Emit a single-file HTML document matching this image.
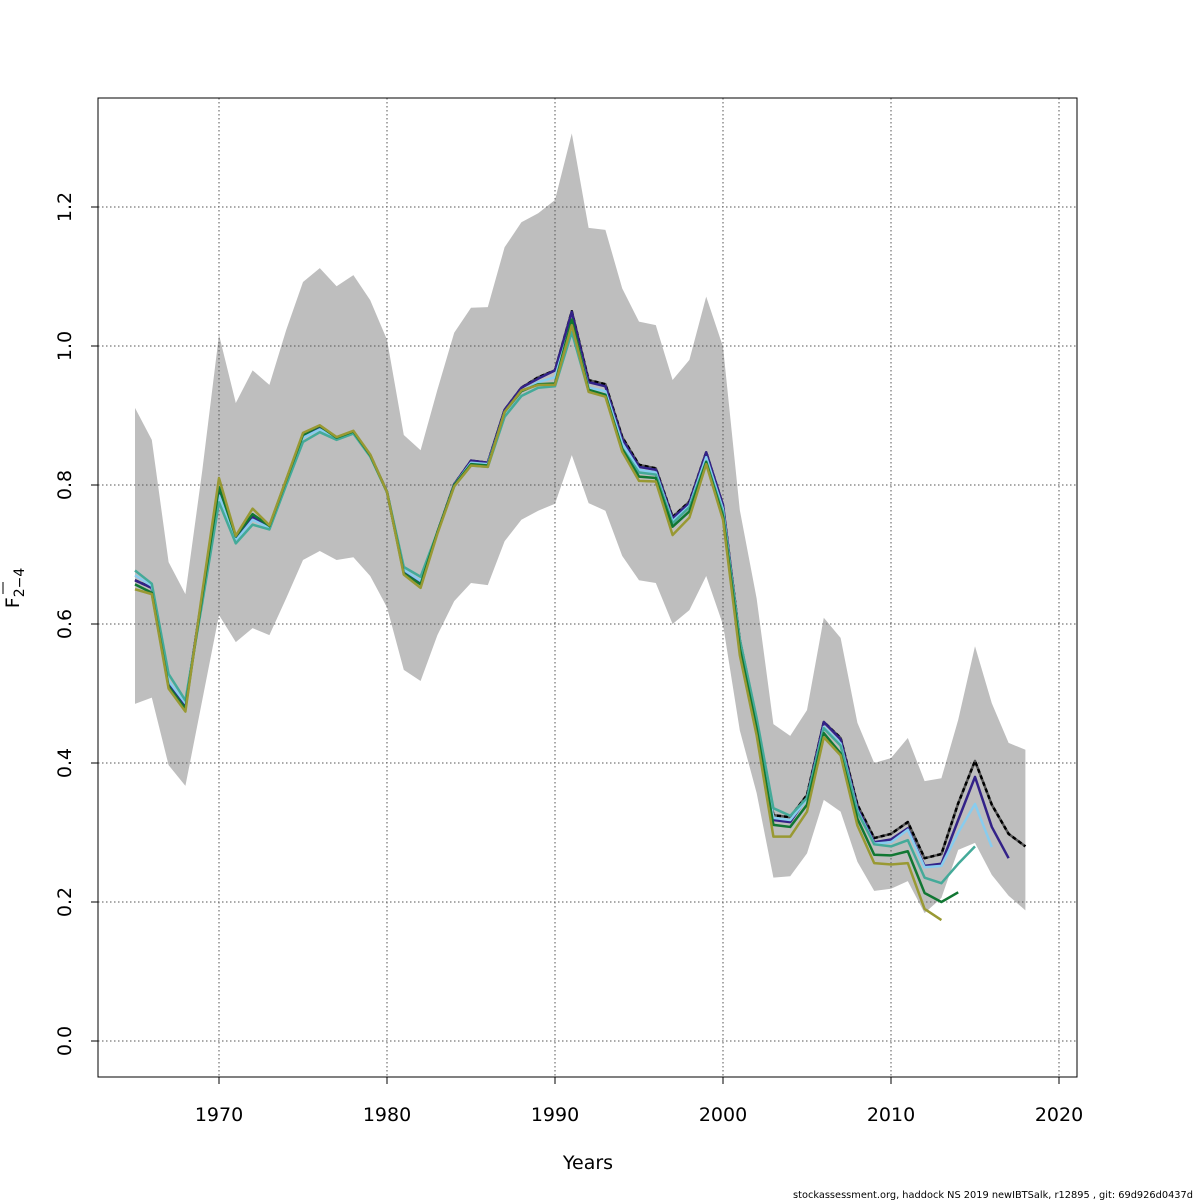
<!DOCTYPE html>
<html><head><meta charset="utf-8"><style>
body{margin:0;background:#fff}
svg{display:block;font-family:"DejaVu Sans","Liberation Sans",sans-serif}
</style></head><body>
<svg id="chart" width="1200" height="1200" viewBox="0 0 1200 1200" xmlns="http://www.w3.org/2000/svg">
<rect width="1200" height="1200" fill="#fff"/>
<g id="band"></g>
<g id="grid"></g>
<g id="lines"></g>
<rect x="98" y="98" width="979" height="979" fill="none" stroke="#000" stroke-width="1"/>
<g id="xaxis"></g>
<g id="yaxis"></g>
<text x="588" y="1169" font-size="19" text-anchor="middle">Years</text>
<text transform="translate(19,588) rotate(-90)" font-size="19" text-anchor="middle"><tspan>F</tspan><tspan font-size="14" dy="5">2−4</tspan></text>
<line x1="3" y1="594" x2="3" y2="582" stroke="#000" stroke-width="1"/>
<text x="793" y="1198" font-size="10" textLength="400" lengthAdjust="spacingAndGlyphs">stockassessment.org, haddock  NS  2019  newIBTSalk, r12895 , git: 69d926d0437d</text>
</svg>
<script>
const years=[1965,1966,1967,1968,1969,1970,1971,1972,1973,1974,1975,1976,1977,1978,1979,1980,1981,1982,1983,1984,1985,1986,1987,1988,1989,1990,1991,1992,1993,1994,1995,1996,1997,1998,1999,2000,2001,2002,2003,2004,2005,2006,2007,2008,2009,2010,2011,2012,2013,2014,2015,2016,2017,2018];
const upper=[0.911,0.865,0.689,0.643,0.82,1.016,0.918,0.965,0.944,1.023,1.092,1.112,1.086,1.102,1.066,1.009,0.872,0.85,0.937,1.019,1.055,1.056,1.142,1.178,1.191,1.21,1.306,1.17,1.167,1.083,1.035,1.03,0.951,0.98,1.071,0.999,0.764,0.637,0.456,0.439,0.476,0.609,0.58,0.458,0.4,0.407,0.436,0.374,0.378,0.462,0.568,0.486,0.429,0.419];
const lower=[0.485,0.494,0.397,0.367,0.49,0.613,0.574,0.594,0.584,0.637,0.692,0.705,0.692,0.696,0.669,0.624,0.534,0.518,0.584,0.633,0.659,0.656,0.719,0.75,0.763,0.773,0.843,0.774,0.763,0.698,0.663,0.659,0.6,0.62,0.669,0.599,0.447,0.357,0.235,0.237,0.27,0.347,0.33,0.258,0.216,0.219,0.23,0.184,0.206,0.275,0.285,0.239,0.209,0.188];
const fbar=[0.663,0.652,0.512,0.483,0.64,0.792,0.725,0.754,0.74,0.807,0.872,0.883,0.868,0.876,0.843,0.79,0.675,0.659,0.732,0.801,0.835,0.832,0.908,0.94,0.955,0.965,1.05,0.951,0.945,0.869,0.829,0.824,0.754,0.776,0.847,0.771,0.577,0.462,0.325,0.322,0.354,0.459,0.436,0.34,0.292,0.298,0.315,0.263,0.269,0.342,0.403,0.34,0.298,0.28];
const peel2017=[0.663,0.652,0.512,0.483,0.64,0.795,0.725,0.754,0.74,0.807,0.872,0.883,0.868,0.876,0.843,0.79,0.675,0.659,0.732,0.801,0.835,0.832,0.908,0.94,0.953,0.965,1.049,0.948,0.942,0.866,0.826,0.822,0.752,0.774,0.847,0.771,0.575,0.46,0.318,0.315,0.35,0.459,0.434,0.335,0.286,0.29,0.306,0.252,0.255,0.318,0.38,0.308,0.263];
const peel2016=[0.67,0.655,0.518,0.486,0.635,0.785,0.72,0.75,0.738,0.805,0.868,0.88,0.866,0.875,0.842,0.79,0.678,0.662,0.732,0.8,0.832,0.83,0.903,0.935,0.948,0.955,1.035,0.94,0.935,0.86,0.822,0.818,0.748,0.77,0.84,0.765,0.575,0.462,0.321,0.318,0.348,0.452,0.428,0.332,0.284,0.286,0.304,0.25,0.252,0.3,0.341,0.279];
const peel2015=[0.677,0.658,0.528,0.49,0.63,0.775,0.716,0.743,0.736,0.8,0.862,0.876,0.865,0.874,0.841,0.79,0.682,0.668,0.732,0.798,0.828,0.826,0.898,0.928,0.94,0.942,1.02,0.935,0.928,0.853,0.818,0.815,0.745,0.768,0.834,0.76,0.578,0.465,0.335,0.324,0.35,0.45,0.425,0.33,0.283,0.28,0.289,0.235,0.227,0.255,0.28];
const peel2014=[0.657,0.645,0.51,0.478,0.64,0.797,0.726,0.758,0.741,0.807,0.872,0.885,0.868,0.877,0.843,0.79,0.673,0.657,0.732,0.8,0.83,0.828,0.905,0.935,0.945,0.946,1.038,0.937,0.93,0.852,0.812,0.81,0.74,0.762,0.833,0.755,0.565,0.45,0.311,0.308,0.34,0.443,0.414,0.32,0.268,0.267,0.273,0.213,0.2,0.214];
const peel2013=[0.65,0.643,0.507,0.474,0.645,0.81,0.727,0.766,0.742,0.808,0.875,0.886,0.869,0.878,0.844,0.79,0.671,0.652,0.73,0.798,0.828,0.826,0.905,0.936,0.944,0.944,1.03,0.934,0.927,0.848,0.806,0.805,0.728,0.753,0.83,0.75,0.555,0.44,0.294,0.294,0.33,0.437,0.411,0.31,0.256,0.254,0.256,0.19,0.174];
const xTicks=[1970,1980,1990,2000,2010,2020];
const yTicks=[0,0.2,0.4,0.6,0.8,1.0,1.2];
const yTickLabels=["0.0","0.2","0.4","0.6","0.8","1.0","1.2"];

const NS="http://www.w3.org/2000/svg";
const X=y=>219+(y-1970)*16.8;
const Y=v=>1041-v*695;
function mk(tag,parent,attrs){const e=document.createElementNS(NS,tag);for(const k in attrs)e.setAttribute(k,attrs[k]);parent.appendChild(e);return e;}
const gb=document.getElementById('band'),gg=document.getElementById('grid'),gl=document.getElementById('lines'),gx=document.getElementById('xaxis'),gy=document.getElementById('yaxis');
let pts=years.map((yr,i)=>X(yr)+','+Y(upper[i]));
for(let i=years.length-1;i>=0;i--)pts.push(X(years[i])+','+Y(lower[i]));
const band=mk('polygon',gb,{points:pts.join(' '),fill:'#bebebe',stroke:'none'});


xTicks.forEach(t=>{
  const l=mk('line',gg,{x1:X(t),x2:X(t),y1:98,y2:1077,stroke:'#555','stroke-dasharray':'1.5,2.5','stroke-width':1});
  
  
  const tk=mk('line',gx,{x1:X(t),x2:X(t),y1:1077,y2:1084,stroke:'#000'});
  
  
  const tx=mk('text',gx,{x:X(t),y:1121,'font-size':19,'text-anchor':'middle'});
  tx.textContent=t;
  
  
});
yTicks.forEach((t,i)=>{
  const l=mk('line',gg,{x1:98,x2:1077,y1:Y(t),y2:Y(t),stroke:'#555','stroke-dasharray':'1.5,2.5','stroke-width':1});
  
  
  const tk=mk('line',gy,{x1:91,x2:98,y1:Y(t),y2:Y(t),stroke:'#000'});
  
  
  const tx=mk('text',gy,{transform:`translate(71,${Y(t)}) rotate(-90)`,'font-size':19,'text-anchor':'middle'});
  tx.textContent=yTickLabels[i];
  
  
});
function line(vals,color,name,dash){
  const p=vals.map((v,i)=>X(years[i])+','+Y(v)).join(' ');
  const e=mk('polyline',gl,{points:p,fill:'none',stroke:color,'stroke-width':2.5,'stroke-linejoin':'round'});
  if(dash)e.setAttribute('stroke-dasharray',dash);
  
  
}
line(fbar,'#555','fbar-main-base');
line(fbar,'#000','fbar-main-dashed','4,3');
line(peel2017,'#332288','retro-peel-2017');
line(peel2016,'#88ccee','retro-peel-2016');
line(peel2015,'#44aa99','retro-peel-2015');
line(peel2014,'#117733','retro-peel-2014');
line(peel2013,'#999933','retro-peel-2013');
</script>
</body></html>
